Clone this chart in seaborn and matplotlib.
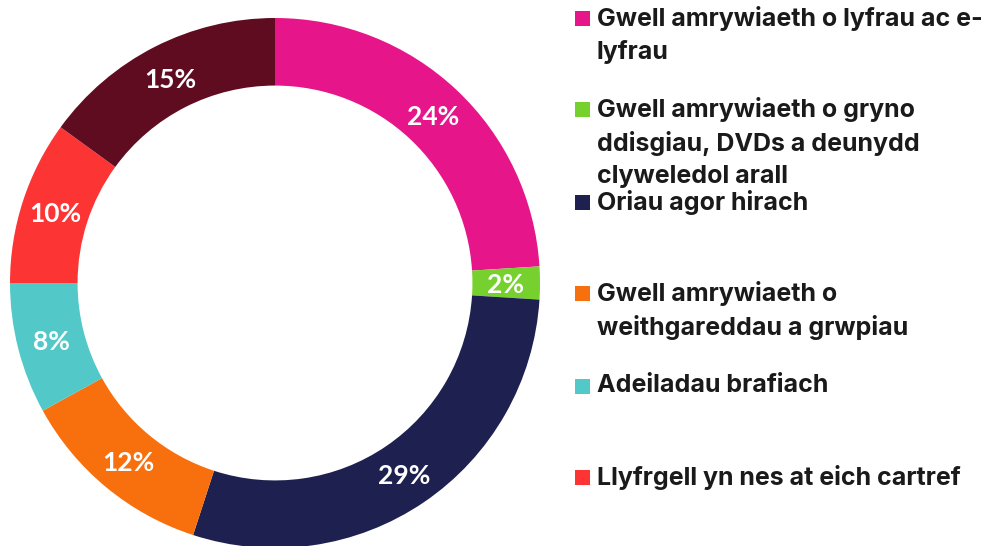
import matplotlib
matplotlib.use("Agg")
import matplotlib.pyplot as plt
import matplotlib.patches as mpatches
from matplotlib.legend_handler import HandlerPatch
import seaborn as sns

# values (clockwise from 12 o'clock)
categories = [
    "Gwell amrywiaeth o lyfrau ac e-\nlyfrau",
    "Gwell amrywiaeth o gryno\nddisgiau, DVDs a deunydd\nclyweledol arall",
    "Oriau agor hirach",
    "Gwell amrywiaeth o\nweithgareddau a grwpiau",
    "Adeiladau brafiach",
    "Llyfrgell yn nes at eich cartref",
    "Arall",
]
shares = [24, 2, 29, 12, 8, 10, 15]
colours = ["#E6168A", "#76D12E", "#1E204F", "#F8700D", "#52C8C8", "#FC3434", "#600C20"]

sns.set_theme(style="white")
plt.rcParams["font.family"] = ["Lato", "DejaVu Sans"]

fig = plt.figure(figsize=(9.81, 5.46), dpi=100)
ax = fig.add_axes([10 / 981, -2 / 546, 530 / 981, 530 / 546])

wedges, _, autotexts = ax.pie(
    shares,
    colors=sns.color_palette(colours),
    startangle=90,
    counterclock=False,
    radius=1.0,
    autopct="%d%%",
    pctdistance=0.87,
    wedgeprops=dict(width=0.255, linewidth=0),
    textprops=dict(color="white", fontsize=19, fontweight="bold"),
)
for t in autotexts:
    t.set_verticalalignment("center_baseline")
ax.set_xlim(-1, 1)
ax.set_ylim(-1, 1)
ax.set_aspect("equal")
ax.axis("off")


# square swatch sitting level with the first line of a wrapped label
def swatch(legend, orig_handle, xdescent, ydescent, width, height, fontsize):
    return mpatches.Rectangle((-xdescent, -ydescent), width, 10.8)


# legend: one entry per slot, fixed spacing like the original
slot_tops = [546 - 6, 546 - 97, 546 - 190, 546 - 281, 546 - 374, 546 - 465]
for wedge, label, top in zip(wedges[:6], categories[:6], slot_tops):
    leg = fig.legend(
        [wedge], [label],
        loc="upper left",
        bbox_to_anchor=(575 / 981, top / 546),
        frameon=False,
        handlelength=0.6,
        handleheight=0.88,
        handletextpad=0.28,
        borderpad=0,
        borderaxespad=0,
        handler_map={wedge: HandlerPatch(patch_func=swatch)},
        prop=dict(family=["Inter", "DejaVu Sans"], weight="bold", size=18),
    )
    for t in leg.get_texts():
        t.set_color("#1a1a1a")
        t.set_linespacing(1.47)
    for col in leg._legend_handle_box.get_children():
        for row in col.get_children():
            row.align = "top"

fig.savefig("out.png", dpi=100)
